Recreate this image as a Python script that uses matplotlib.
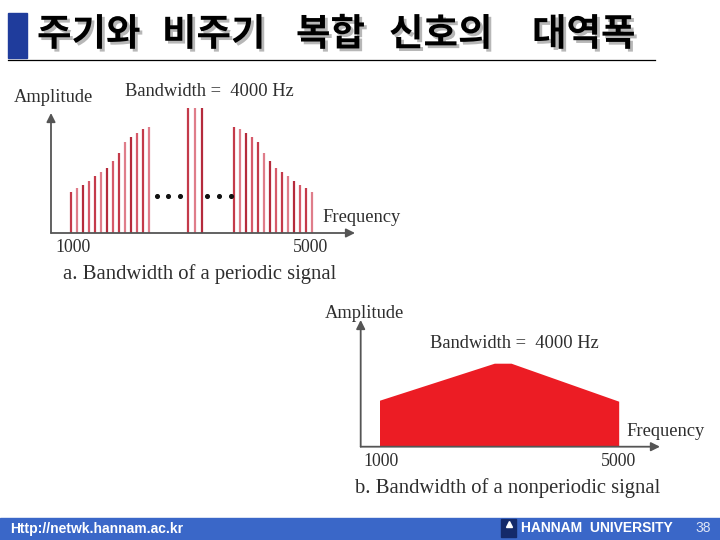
import matplotlib
matplotlib.use("Agg")
import matplotlib.pyplot as plt
from matplotlib import patheffects
from matplotlib.patches import Rectangle, Polygon

# --- data ---
title_words = ["주기와", "비주기", "복합", "신호의", "대역폭"]

# a. periodic signal: discrete harmonics
left_freqs = [1000, 1100, 1200, 1300, 1400, 1500, 1600, 1700, 1800, 1900, 2000, 2100, 2200, 2300]
left_amps = [41, 45, 48, 52, 57, 61, 65, 72, 80, 91, 96, 100, 104, 106]
mid_freqs = [2950, 3060, 3170]
mid_amps = [125, 125, 125]
right_freqs = [3700, 3800, 3900, 4000, 4100, 4200, 4300, 4400, 4500, 4600, 4700, 4800, 4900, 5000]
right_amps = [106, 104, 100, 96, 91, 80, 72, 65, 61, 57, 52, 48, 45, 41]
dot_freqs = [2420, 2610, 2810, 3260, 3460, 3650]
dot_amps = [37, 37, 37, 37, 37, 37]

# b. nonperiodic signal: continuous spectrum outline
cont_freqs = [1000, 1000, 2920, 3200, 5000, 5000]
cont_amps = [0, 46, 83, 83, 45, 0]

tick_labels = ["1000", "5000"]
bw_label = "Bandwidth =  4000 Hz"

W, H = 720, 540
fig = plt.figure(figsize=(7.2, 5.4), dpi=100)

# slide background / decorations in pixel coordinates
bg = fig.add_axes([0, 0, 1, 1])
bg.set_xlim(0, W)
bg.set_ylim(H, 0)
bg.axis("off")

bg.add_patch(Rectangle((8, 13), 19, 45, color="#1f3c9c"))
bg.plot([8, 655], [59.5, 59.5], color="black", lw=0.9)
title_x = [37, 162, 296, 389, 532]
for word, x in zip(title_words, title_x):
    bg.text(x, 34, word, fontsize=27, fontweight="bold", family=["Noto Sans CJK KR", "DejaVu Sans"],
            ha="left", va="center", color="black",
            path_effects=[patheffects.withSimplePatchShadow(offset=(2, -2), shadow_rgbFace="#888888", alpha=0.6)])

# footer band
bg.add_patch(Rectangle((0, 517.5), W, 23, color="#3a67c8"))
bg.text(10, 528.5, "Http://netwk.hannam.ac.kr", fontsize=10, fontweight="bold", color="white",
        family="Liberation Sans", ha="left", va="center")
bg.add_patch(Rectangle((501, 519), 15, 18, color="#142a6a"))
bg.plot([508.5], [524], marker="^", ms=5, color="white")
bg.text(521, 528.5, "HANNAM  UNIVERSITY", fontsize=10, fontweight="bold", color="white",
        family="Liberation Sans", ha="left", va="center")
bg.text(695, 528, "38", fontsize=10, color="#dde4f5", family="Liberation Sans", ha="left", va="center")

txt = dict(family="Liberation Serif", color="#2e2e2e", va="center", ha="left")
# labels for diagram a
bg.text(14, 97, "Amplitude", fontsize=13.3, **txt)
bg.text(125, 92, bw_label, fontsize=13.3, **txt)
bg.text(322, 218, "Frequency", fontsize=13.3, **txt)
bg.text(55, 248, tick_labels[0], fontsize=12.8, **txt)
bg.text(293, 248, tick_labels[1], fontsize=12.8, **txt)
bg.text(63, 274, "a. Bandwidth of a periodic signal", fontsize=14.9, **txt)
# labels for diagram b
bg.text(325, 313, "Amplitude", fontsize=13.3, **txt)
bg.text(430, 343, bw_label, fontsize=13.3, **txt)
bg.text(626, 431, "Frequency", fontsize=13.3, **txt)
bg.text(363, 461, tick_labels[0], fontsize=12.8, **txt)
bg.text(601, 461, tick_labels[1], fontsize=12.8, **txt)
bg.text(355, 488, "b. Bandwidth of a nonperiodic signal", fontsize=14.9, **txt)


def axes_px(x0, y0, x1, y1):
    a = fig.add_axes([x0 / W, (H - y1) / H, (x1 - x0) / W, (y1 - y0) / H])
    a.patch.set_alpha(0)
    a.axis("off")
    return a


def draw_arrows(a, x0, xtip, ytip):
    style = dict(arrowstyle="-|>", color="#555555", lw=1.3, mutation_scale=13, shrinkA=0, shrinkB=0)
    a.annotate("", xy=(x0, ytip), xytext=(x0, 0), arrowprops=style)
    a.annotate("", xy=(xtip, 0), xytext=(x0, 0), arrowprops=style)


line_cols = ["#c43a4a", "#df7d8a", "#b52b3c", "#d65a6a"]

# diagram a
ax1 = axes_px(40, 100, 360, 240)
ax1.set_xlim(485.5, 5796.7)
ax1.set_ylim(-7, 133)
for fs, am in [(left_freqs, left_amps), (mid_freqs, mid_amps), (right_freqs, right_amps)]:
    cols = [line_cols[i % len(line_cols)] for i in range(len(fs))]
    ax1.vlines(fs, 0, am, colors=cols, lw=1.6)
ax1.scatter(dot_freqs, dot_amps, s=7, color="#111111", zorder=3)
draw_arrows(ax1, 668, 5714, 120)

# diagram b
ax2 = axes_px(340, 300, 680, 460)
ax2.set_xlim(331, 6017)
ax2.set_ylim(-13.3, 146.7)
ax2.add_patch(Polygon(list(zip(cont_freqs, cont_amps)), closed=True, color="#ec1c24", lw=0))
draw_arrows(ax2, 677, 5682, 126.7)

fig.savefig("out.png", dpi=100)
